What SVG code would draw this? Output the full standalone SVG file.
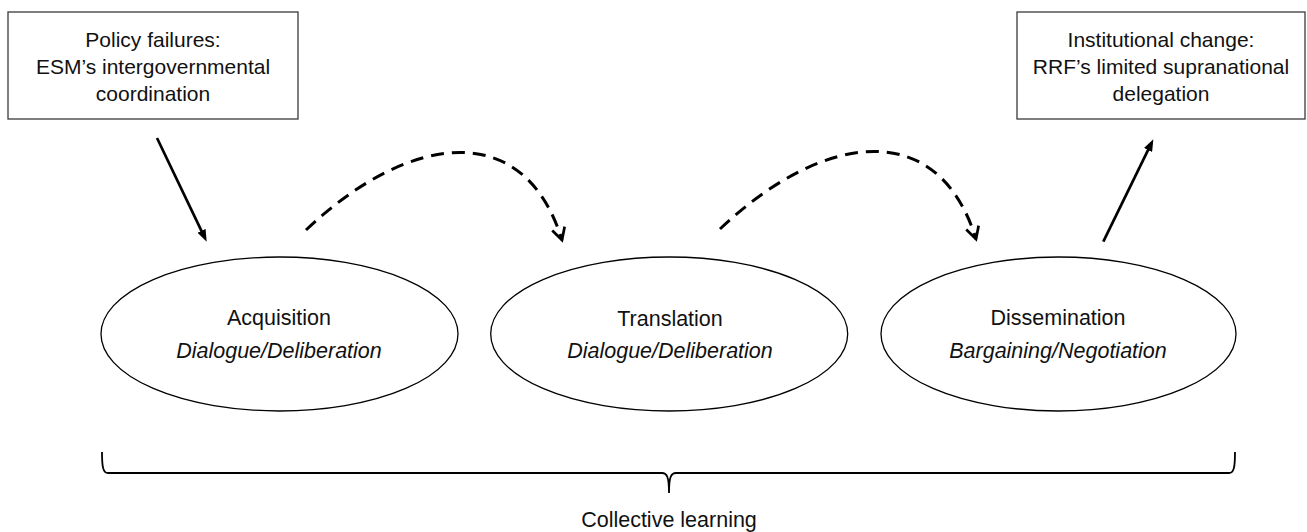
<svg xmlns="http://www.w3.org/2000/svg" width="1307" height="532" viewBox="0 0 1307 532">
<style>
.box{fill:#fff;stroke:#3a3a3a;stroke-width:1.3}
.ell{fill:#fff;stroke:#000;stroke-width:1.3}
.t{font-family:"Liberation Sans",Arial,sans-serif;font-size:21px;fill:#111;text-anchor:middle}
.te{font-family:"Liberation Sans",Arial,sans-serif;font-size:21.5px;fill:#111;text-anchor:middle}
.i{font-style:italic}
.solid{fill:none;stroke:#000;stroke-width:2.7}
.dash{fill:none;stroke:#000;stroke-width:3;stroke-dasharray:13 8}
.brace{fill:none;stroke:#000;stroke-width:1.8}
</style>
<defs>
<marker id="ah" viewBox="0 0 12 9" refX="6" refY="4.5" markerWidth="12" markerHeight="9" markerUnits="userSpaceOnUse" orient="auto">
<path d="M0,0 L12,4.5 L0,9 z" fill="#000"/>
</marker>
<marker id="chev" viewBox="0 0 14 14" refX="13" refY="7" markerWidth="14" markerHeight="14" markerUnits="userSpaceOnUse" orient="auto" overflow="visible">
<path d="M1,0.5 L13,7 L1,13.5" fill="none" stroke="#000" stroke-width="2.7"/>
</marker>
</defs>
<g id="policy-failures">
<rect class="box" x="8" y="12" width="290" height="107"/>
<text class="t" x="153" y="47">Policy failures:</text>
<text class="t" x="153" y="74">ESM’s intergovernmental</text>
<text class="t" x="153" y="101">coordination</text>
</g>
<g id="institutional-change">
<rect class="box" x="1017" y="12" width="288" height="107"/>
<text class="t" x="1161" y="47">Institutional change:</text>
<text class="t" x="1161" y="74">RRF’s limited supranational</text>
<text class="t" x="1161" y="101">delegation</text>
</g>
<g id="acquisition">
<ellipse class="ell" cx="279.5" cy="334" rx="178.5" ry="77"/>
<text class="te" x="279" y="325">Acquisition</text>
<text class="te i" x="279" y="358">Dialogue/Deliberation</text>
</g>
<g id="translation">
<ellipse class="ell" cx="669.2" cy="334" rx="178.5" ry="77"/>
<text class="te" x="670" y="326">Translation</text>
<text class="te i" x="670" y="358">Dialogue/Deliberation</text>
</g>
<g id="dissemination">
<ellipse class="ell" cx="1058.5" cy="334" rx="177.5" ry="77"/>
<text class="te" x="1058" y="325">Dissemination</text>
<text class="te i" x="1058" y="358">Bargaining/Negotiation</text>
</g>
<g id="collective-learning">
<path class="brace" d="M102,452 C102,467 103,473 108,473 L662,473 C667,473 669,477 669,493 C669,477 671,473 676,473 L1229,473 C1234,473 1235,467 1235,452"/>
<text class="te" x="669" y="527">Collective learning</text>
</g>
<g id="connectors">
<path class="solid" d="M157,138 L204.1,236.3" marker-end="url(#ah)"/>
<path class="solid" d="M1103.3,241.7 L1150.7,144.7" marker-end="url(#ah)"/>
<path class="dash" d="M306,230 C406,135 523.25,115 562,240" marker-end="url(#chev)"/>
<path class="dash" d="M720,229 C820,134 937.25,114 976,239" marker-end="url(#chev)"/>
</g>
</svg>
